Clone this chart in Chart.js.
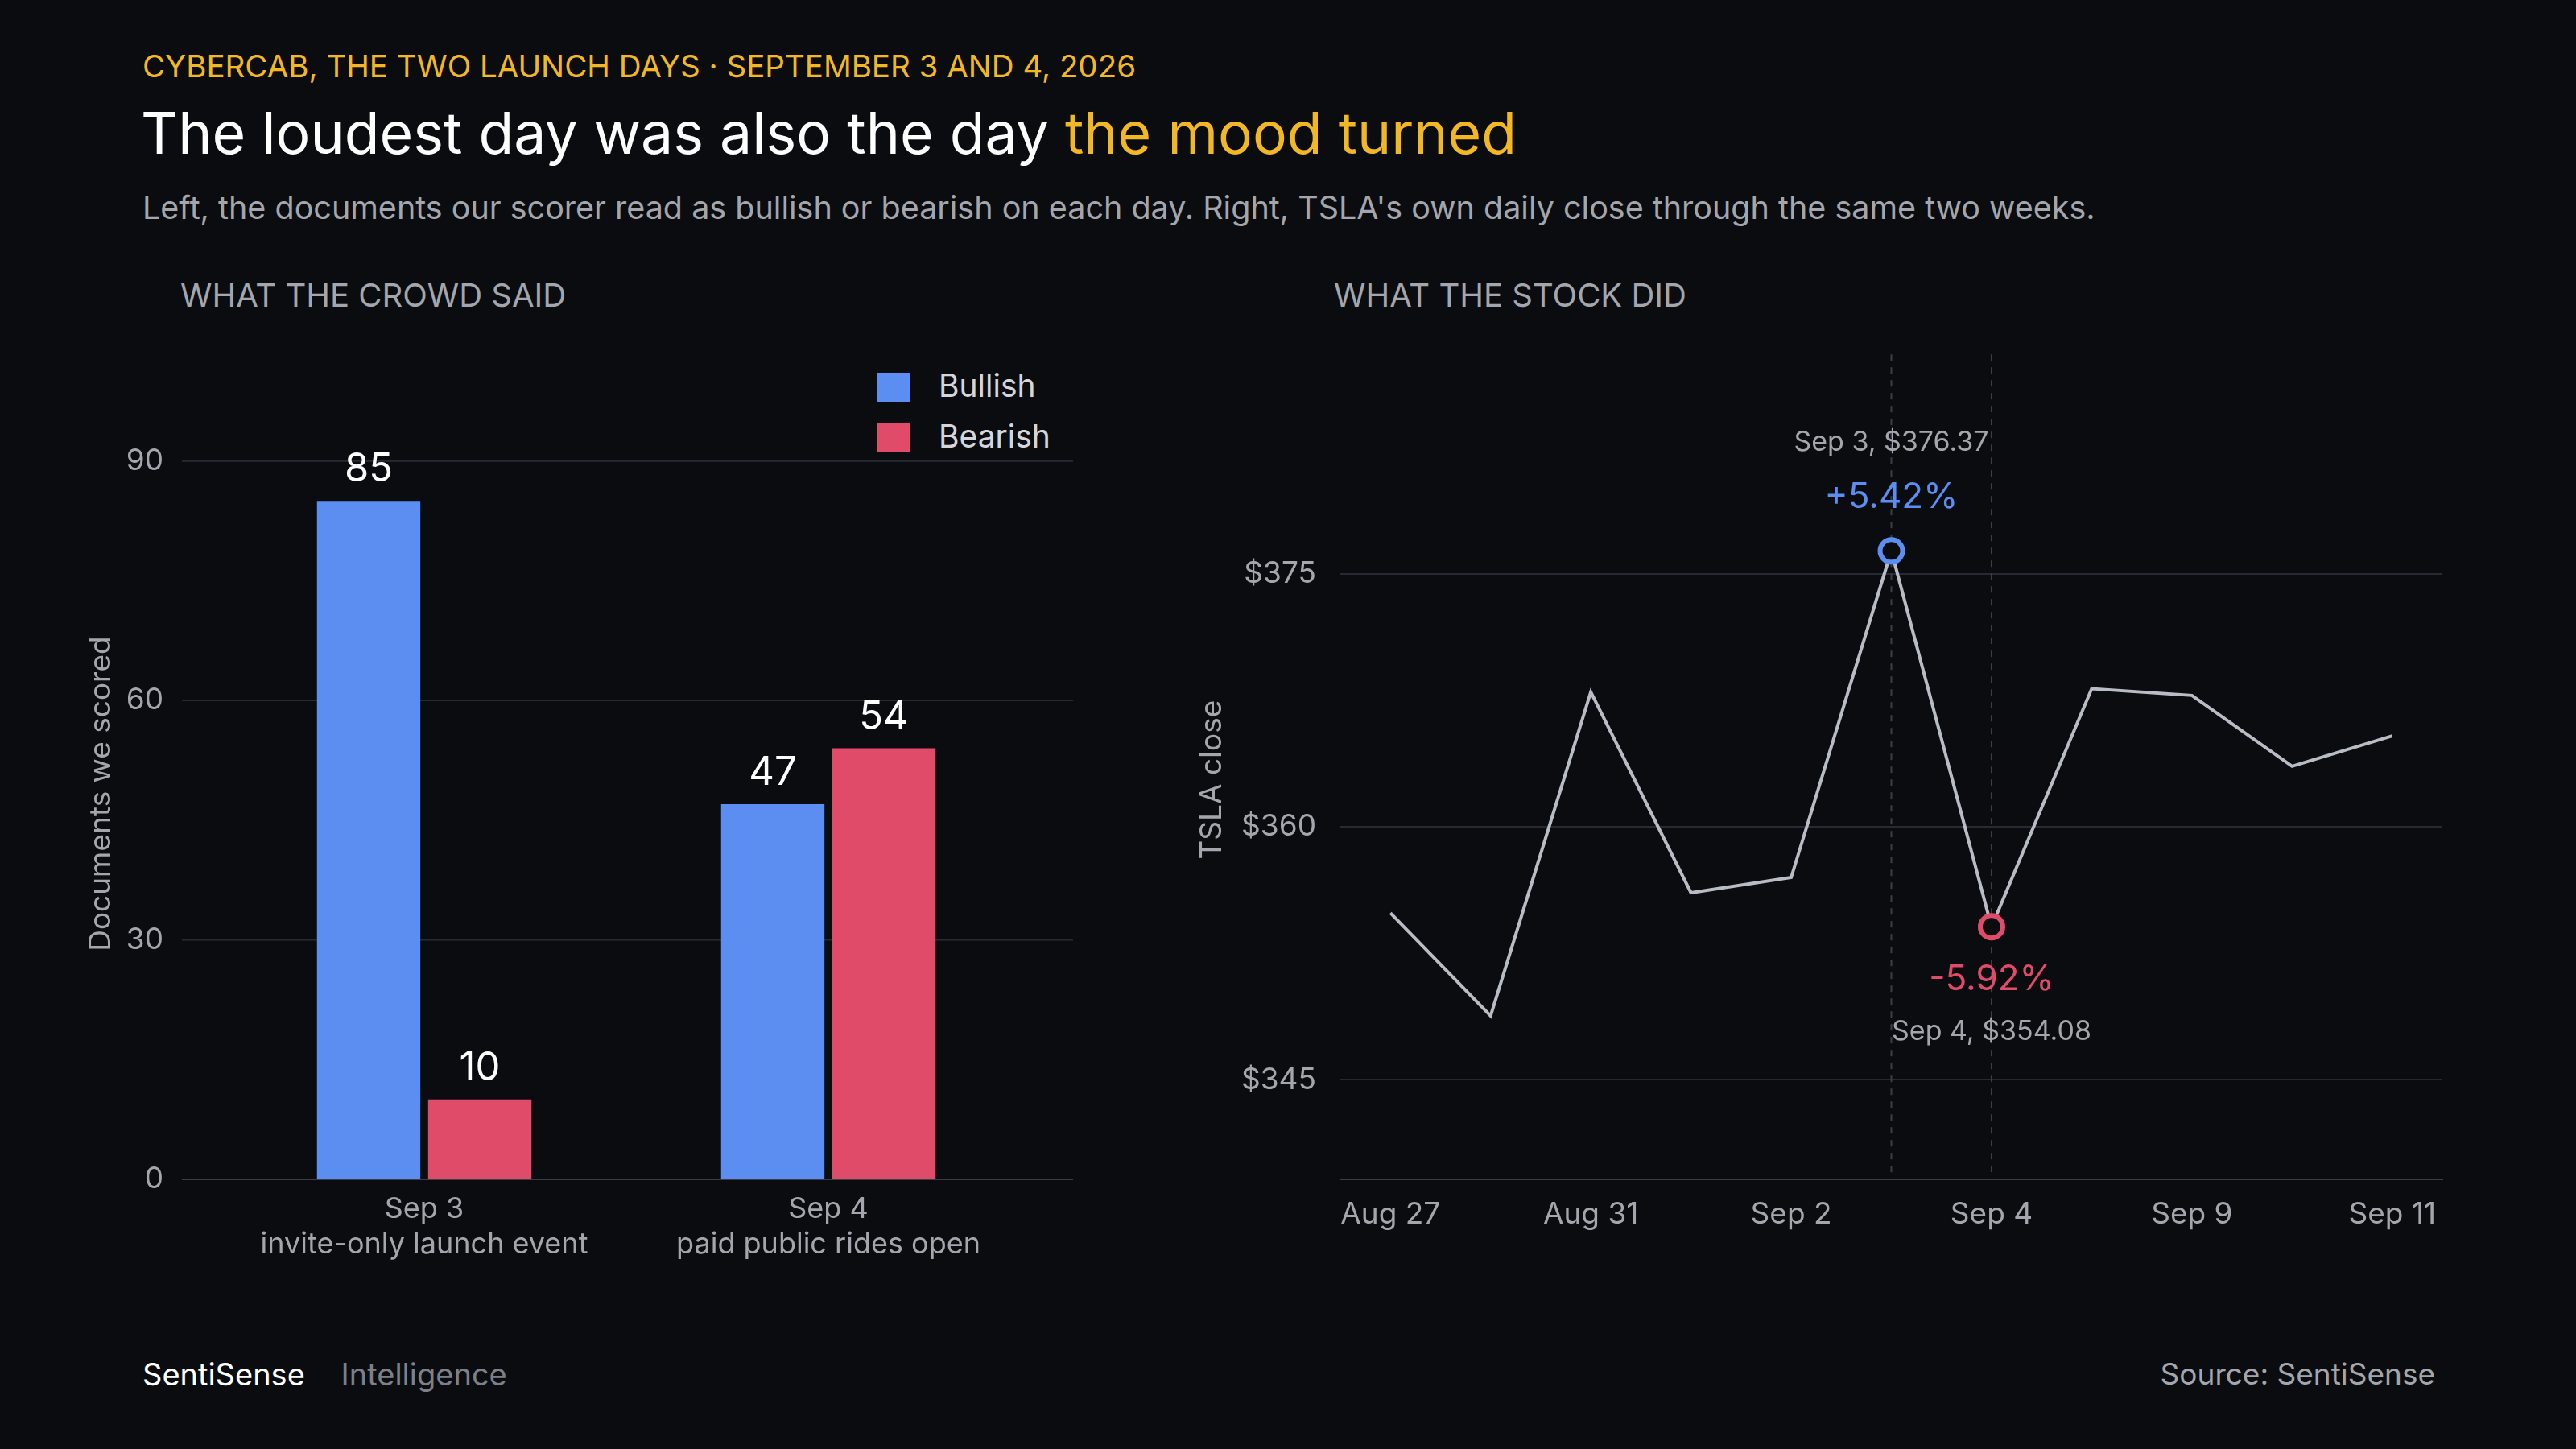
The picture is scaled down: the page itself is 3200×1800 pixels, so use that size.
<!DOCTYPE html>
<html><head><meta charset="utf-8">
<script src="https://cdn.jsdelivr.net/npm/chart.js@4"></script>
<style>
html,body{margin:0;padding:0;background:#0b0c10;width:3200px;height:1800px;overflow:hidden;font-family:Inter,"Noto Sans",sans-serif}
.t{position:absolute;white-space:nowrap;line-height:1}
canvas{position:absolute}
</style></head><body>
<div class="t" style="left:177px;top:63px;font-size:38.5px;color:#f2b824">CYBERCAB, THE TWO LAUNCH DAYS · SEPTEMBER 3 AND 4, 2026</div>
<div class="t" style="left:175px;top:130px;font-size:71.5px;color:#ffffff">The loudest day was also the day <span style="color:#f2b824">the mood turned</span></div>
<div class="t" style="left:177px;top:239px;font-size:39.5px;color:#a3a6ad">Left, the documents our scorer read as bullish or bearish on each day. Right, TSLA's own daily close through the same two weeks.</div>
<div class="t" style="left:224px;top:347px;font-size:40px;color:#a3a6ad">WHAT THE CROWD SAID</div>
<div class="t" style="left:1657px;top:347px;font-size:40px;color:#a3a6ad">WHAT THE STOCK DID</div>
<div class="t" style="left:1090px;top:459px;font-size:39px;color:#d4d6db"><span style="display:inline-block;width:40px;height:36px;background:#5b8ef0;vertical-align:-6px;margin-right:36px"></span>Bullish</div>
<div class="t" style="left:1090px;top:522px;font-size:39px;color:#d4d6db"><span style="display:inline-block;width:40px;height:36px;background:#e04b6a;vertical-align:-6px;margin-right:36px"></span>Bearish</div>
<div class="t" style="left:177px;top:1688px;font-size:38px;color:#ffffff">SentiSense <span style="color:#7d8088;margin-left:34px">Intelligence</span></div>
<div class="t" style="right:175px;top:1688px;font-size:37px;color:#a3a6ad">Source: SentiSense</div>
<canvas id="bar" style="left:80px;top:420px;width:1280px;height:1200px"></canvas>
<canvas id="line" style="left:1480px;top:420px;width:1600px;height:1200px"></canvas>
<script>
const barCategories=[["Sep 3","invite-only launch event"],["Sep 4","paid public rides open"]];
const bullish=[85,47];
const bearish=[10,54];
const dates=["Aug 27","Aug 28","Aug 31","Sep 1","Sep 2","Sep 3","Sep 4","Sep 8","Sep 9","Sep 10","Sep 11"];
const closes=[354.9,348.8,368.0,356.1,357.0,376.37,354.08,368.2,367.8,363.6,365.4];
const shownDates=["Aug 27","Aug 31","Sep 2","Sep 4","Sep 9","Sep 11"];
const FONT="Inter, 'Noto Sans', sans-serif";
const GRID="#262a33",TICK="#a3a6ad",BLUE="#5b8ef0",RED="#e04b6a",BG="#0b0c10";

const barGrid={id:'bg',beforeDatasetsDraw(c){const x=c.ctx,a=c.chartArea,ys=c.scales.y;x.save();
const l=a.left-50,r=a.right+53;
[30,60,90].forEach(v=>{const y=ys.getPixelForValue(v);x.strokeStyle=GRID;x.lineWidth=2;x.beginPath();x.moveTo(l,y);x.lineTo(r,y);x.stroke();});
x.strokeStyle="#3a3e47";x.beginPath();x.moveTo(l,a.bottom);x.lineTo(r,a.bottom);x.stroke();x.restore();},
afterDatasetsDraw(c){const x=c.ctx;x.save();x.font="49px "+FONT;x.fillStyle="#ffffff";x.textAlign="center";x.textBaseline="bottom";
c.data.datasets.forEach((d,i)=>c.getDatasetMeta(i).data.forEach((b,j)=>x.fillText(d.data[j],b.x,b.y-14)));x.restore();}};
new Chart(document.getElementById('bar'),{type:'bar',
data:{labels:barCategories,datasets:[{label:'Bullish',data:bullish,backgroundColor:BLUE},{label:'Bearish',data:bearish,backgroundColor:RED}]},
options:{responsive:false,animation:false,layout:{padding:{top:13,right:80,left:24}},
plugins:{legend:{display:false},tooltip:{enabled:false}},
datasets:{bar:{categoryPercentage:0.55,barPercentage:0.93}},
scales:{x:{grid:{display:false},border:{display:false},ticks:{color:TICK,font:{size:36,family:FONT},padding:8},afterFit(s){s.height=155;}},
y:{min:0,max:96.6,afterBuildTicks(s){s.ticks=[0,30,60,90].map(v=>({value:v}));},grid:{display:false},border:{display:false},
ticks:{color:TICK,font:{size:37,family:FONT},padding:65},
title:{display:true,text:"Documents we scored",color:TICK,font:{size:37,family:FONT},padding:{bottom:0,top:0}},afterFit(s){s.width=172;}}}},
plugins:[barGrid]});

const ann={id:'ann',beforeDatasetsDraw(c){const x=c.ctx,a=c.chartArea,xs=c.scales.x;x.save();x.strokeStyle="#3a3e47";x.lineWidth=2;x.setLineDash([8,8]);
[5,6].forEach(i=>{const px=xs.getPixelForValue(i);x.beginPath();x.moveTo(px,a.top-32);x.lineTo(px,a.bottom);x.stroke();});x.restore();},
afterDatasetsDraw(c){const x=c.ctx,m=c.getDatasetMeta(0).data;x.save();x.textAlign="center";
const p3=m[5],p4=m[6];
[[p3,BLUE],[p4,RED]].forEach(([p,col])=>{x.beginPath();x.arc(p.x,p.y,14,0,Math.PI*2);x.fillStyle=BG;x.fill();x.lineWidth=6;x.strokeStyle=col;x.stroke();});
x.textBaseline="middle";
x.font="34px "+FONT;x.fillStyle=TICK;x.fillText("Sep 3, $"+closes[5].toFixed(2),p3.x,p3.y-135);
x.font="44px "+FONT;x.fillStyle=BLUE;x.fillText("+5.42%",p3.x,p3.y-67);
x.fillStyle=RED;x.fillText("-5.92%",p4.x,p4.y+66);
x.font="34px "+FONT;x.fillStyle=TICK;x.fillText("Sep 4, $"+closes[6].toFixed(2),p4.x,p4.y+131);x.restore();}};
new Chart(document.getElementById('line'),{type:'line',
data:{labels:dates,datasets:[{data:closes,borderColor:"#b8bcc4",borderWidth:4,pointRadius:0,tension:0}]},
options:{responsive:false,animation:false,layout:{padding:{top:13,right:46}},
plugins:{legend:{display:false},tooltip:{enabled:false}},
scales:{x:{offset:true,grid:{display:false},border:{color:"#3a3e47",width:2},
ticks:{color:TICK,font:{size:37,family:FONT},padding:14,autoSkip:false,maxRotation:0,callback(v){const l=dates[v];return shownDates.includes(l)?l:"";}},afterFit(s){s.height=155;}},
y:{min:339.1,max:386.5,afterBuildTicks(s){s.ticks=[345,360,375].map(v=>({value:v}));},grid:{color:GRID,lineWidth:2,drawTicks:false},border:{display:false},
ticks:{color:TICK,font:{size:37,family:FONT},padding:30,callback:v=>"$"+v},
title:{display:true,text:"TSLA close",color:TICK,font:{size:37,family:FONT}},afterFit(s){s.width=185;}}}},
plugins:[ann]});
</script></body></html>
